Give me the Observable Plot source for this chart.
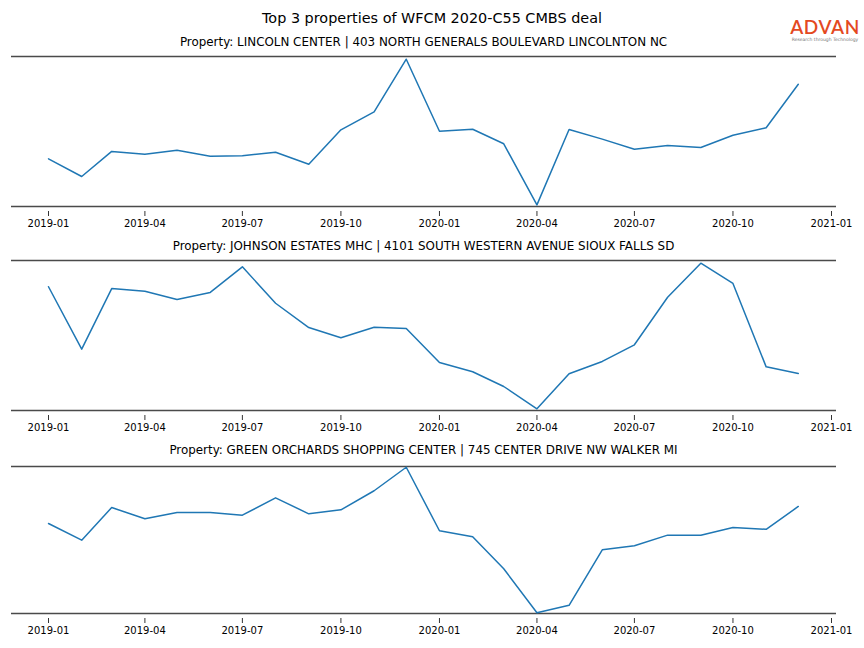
<!DOCTYPE html>
<html>
<head>
<meta charset="utf-8">
<script src="https://cdn.jsdelivr.net/npm/d3@7"></script>
<script src="https://cdn.jsdelivr.net/npm/@observablehq/plot@0.6"></script>
<style>
  html, body { margin: 0; padding: 0; background: #fff; }
  #root { position: relative; width: 864px; height: 648px; overflow: hidden; font-family: "DejaVu Sans", sans-serif; color: #000; }
  .title { position: absolute; left: 0; width: 864px; text-align: center; white-space: nowrap; }
  .subtitle { position: absolute; left: 0; width: 847px; text-align: center; white-space: nowrap; }
  .panel { position: absolute; left: 0; }
  #logo { position: absolute; left: 790px; top: 17px; width: 70px; text-align: center; }
  #logo .brand { font-family: "Lato", "DejaVu Sans", sans-serif; font-weight: 600; font-size: 19px; color: #e4491f; letter-spacing: 0.6px; line-height: 20px; }
  #logo .tag { font-family: "DejaVu Sans", sans-serif; font-size: 4.5px; color: #777; line-height: 5px; white-space: nowrap; }
</style>
</head>
<body>
<div id="root"></div>
<script>
// ---- data (arbitrary 0-100 index) ----
const months = ["2019-01","2019-02","2019-03","2019-04","2019-05","2019-06","2019-07","2019-08","2019-09","2019-10","2019-11","2019-12",
                "2020-01","2020-02","2020-03","2020-04","2020-05","2020-06","2020-07","2020-08","2020-09","2020-10","2020-11","2020-12"];
const lincolnCenter = [31.8,20.0,36.7,34.9,37.5,33.5,33.8,36.2,28.2,51.1,63.1,98.2,
                       50.2,51.5,41.8,1.1,51.3,44.9,38.2,40.7,39.3,47.5,52.5,81.5];
const johnsonEstates = [82.5,40.9,81.3,79.5,74.0,78.7,95.8,71.5,55.3,48.5,55.5,54.7,
                        32.0,25.8,16.0,1.1,24.5,32.7,43.8,75.5,98.2,84.7,29.1,24.7];
const greenOrchards = [61.2,49.9,72.1,64.4,68.7,68.7,66.9,78.7,67.8,70.5,83.5,99.5,
                       56.3,52.2,30.4,0.5,5.6,43.3,46.1,53.3,53.3,58.5,57.3,72.8];
const mainTitle = "Top 3 properties of WFCM 2020-C55 CMBS deal";
const panelTitles = [
  "Property: LINCOLN CENTER | 403 NORTH GENERALS BOULEVARD LINCOLNTON NC",
  "Property: JOHNSON ESTATES MHC | 4101 SOUTH WESTERN AVENUE SIOUX FALLS SD",
  "Property: GREEN ORCHARDS SHOPPING CENTER | 745 CENTER DRIVE NW WALKER MI"
];
const xDomain = ["2019-01", "2021-01"];

// ---- build ----
const parse = d3.utcParse("%Y-%m");
const root = document.getElementById("root");

function addDiv(cls, text, top, size) {
  const d = document.createElement("div");
  d.className = cls;
  d.textContent = text;
  d.style.top = top + "px";
  d.style.fontSize = size + "px";
  root.appendChild(d);
  return d;
}

addDiv("title", mainTitle, 10, 14.4);

const logo = document.createElement("div");
logo.id = "logo";
logo.innerHTML = '<div class="brand">ADVAN</div><div class="tag">Research through Technology</div>';
root.appendChild(logo);

const series = [lincolnCenter, johnsonEstates, greenOrchards];
const layout = [
  {titleTop: 35, svgTop: 46, plotH: 150},
  {titleTop: 239, svgTop: 250, plotH: 150},
  {titleTop: 443, svgTop: 456, plotH: 147}
];

series.forEach((vals, i) => {
  const L = layout[i];
  addDiv("subtitle", panelTitles[i], L.titleTop, 11.9);
  const data = months.map((m, j) => ({date: parse(m), value: vals[j]}));
  const mTop = 10, mBottom = 25, gap = 5;
  const chart = Plot.plot({
    width: 864,
    height: mTop + L.plotH + gap + mBottom,
    marginTop: mTop,
    marginBottom: mBottom,
    marginLeft: 11,
    marginRight: 28,
    style: {fontFamily: "DejaVu Sans, sans-serif", fontSize: "10px", background: "transparent", color: "#000"},
    x: {type: "utc", domain: xDomain.map(parse), insetLeft: 37, insetRight: 5},
    y: {domain: [0, 100], insetBottom: gap, axis: null},
    marks: [
      Plot.axisX({
        ticks: d3.utcMonth.every(3),
        tickFormat: d3.utcFormat("%Y-%m"),
        tickSize: 5,
        tickPadding: 3,
        stroke: "#000",
        strokeWidth: 0.8,
        label: null,
        fontSize: 10
      }),
      Plot.ruleY([0, 100], {stroke: "#4a4a4a", strokeWidth: 1.7}),
      Plot.line(data, {x: "date", y: "value", stroke: "#1f77b4", strokeWidth: 1.5})
    ]
  });
  chart.classList.add("panel");
  chart.style.top = L.svgTop + "px";
  root.appendChild(chart);
});
</script>
</body>
</html>
